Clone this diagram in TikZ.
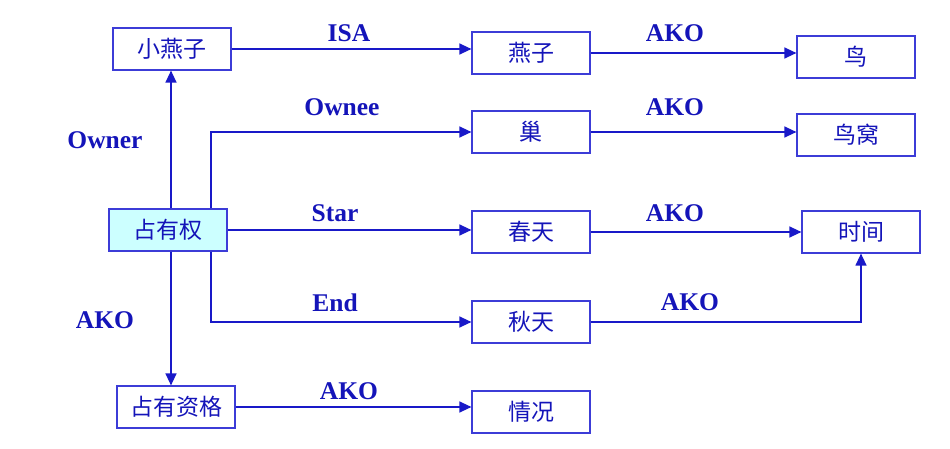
\documentclass[tikz,border=0pt]{standalone}
\usepackage{fontspec}
\setmainfont{Liberation Serif}
\newfontfamily\cjk{Noto Sans CJK SC}
\usetikzlibrary{arrows.meta}
\definecolor{linecol}{RGB}{25,25,200}
\definecolor{boxcol}{RGB}{60,60,215}
\definecolor{labelcol}{RGB}{20,20,185}
\definecolor{boxfill}{RGB}{204,255,255}
\tikzset{
    frame/.style={draw=boxcol, line width=1.2pt, minimum width=118pt, minimum height=42pt,
        inner sep=0pt, text=labelcol, font=\cjk\fontsize{23}{23}\selectfont},
    lbl/.style={text=labelcol, font=\bfseries\fontsize{25.5}{25.5}\selectfont, inner sep=0pt},
    arr/.style={draw=linecol, line width=1.3pt, -{Triangle[length=12pt,width=11pt]}}
}
\begin{document}
\begin{tikzpicture}[x=1pt, y=-1pt]
    \useasboundingbox (0,0) rectangle (950,449);
    % boxes
    \node[frame] (swallowlet) at (172,49) {小燕子};
    \node[frame] (swallow) at (531,53) {燕子};
    \node[frame] (bird) at (856,57) {鸟};
    \node[frame] (nest) at (531,132) {巢};
    \node[frame] (birdnest) at (856,135) {鸟窝};
    \node[frame, fill=boxfill] (own) at (168,230) {占有权};
    \node[frame] (spring) at (531,232) {春天};
    \node[frame] (time) at (861,232) {时间};
    \node[frame] (autumn) at (531,322) {秋天};
    \node[frame] (right) at (176,407) {占有资格};
    \node[frame] (status) at (531,412) {情况};
    % labels
    \node[lbl] (isa) at (349,33) {ISA};
    \node[lbl] (ako1) at (675,33) {AKO};
    \node[lbl] (ownee) at (342,107) {Ownee};
    \node[lbl] (ako2) at (675,107) {AKO};
    \node[lbl] (owner) at (105,140) {Owner};
    \node[lbl] (star) at (335,213) {Star};
    \node[lbl] (ako3) at (675,213) {AKO};
    \node[lbl] (end) at (335,303) {End};
    \node[lbl] (ako4) at (690,302) {AKO};
    \node[lbl] (ako5) at (105,320) {AKO};
    \node[lbl] (ako6) at (349,391) {AKO};
    % connectors
    \draw[arr] (swallowlet.east) -- (swallowlet.east -| swallow.west);
    \draw[arr] (swallow.east) -- (swallow.east -| bird.west);
    \draw[arr] (nest.east) -- (nest.east -| birdnest.west);
    \draw[arr] (spring.east) -- (spring.east -| time.west);
    \draw[arr] (autumn.east) -| (time.south);
    \draw[arr] ([xshift=3pt]own.north) -- ([xshift=3pt]own.north |- swallowlet.south);
    \draw[arr] ([xshift=43pt]own.north) |- (nest.west);
    \draw[arr] (own.east) -- (own.east -| spring.west);
    \draw[arr] ([xshift=43pt]own.south) |- (autumn.west);
    \draw[arr] ([xshift=3pt]own.south) -- ([xshift=3pt]own.south |- right.north);
    \draw[arr] (right.east) -- (right.east -| status.west);
\end{tikzpicture}
\end{document}
